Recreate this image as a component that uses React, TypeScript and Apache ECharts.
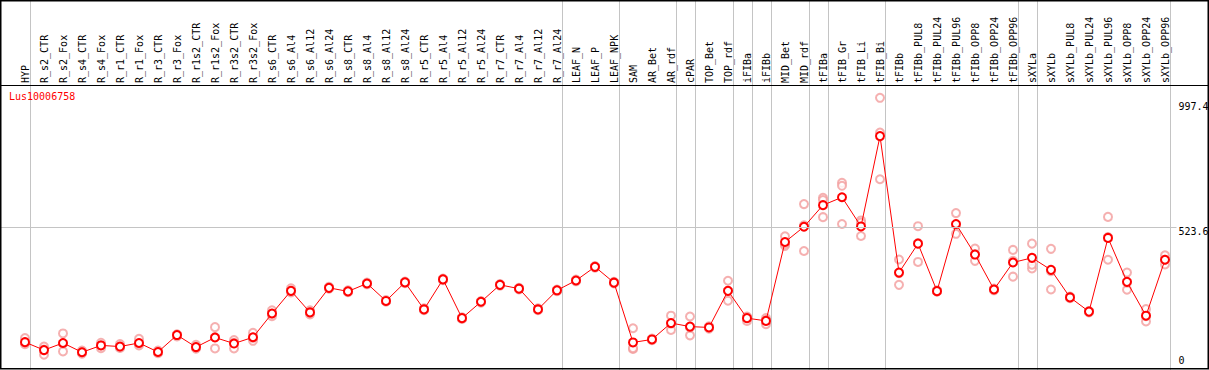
import React, { useEffect, useRef } from "react";
import * as echarts from "echarts";

const geneId = "Lus10006758";

const categories = [
  "HYP", "R_s2_CTR", "R_s2_Fox", "R_s4_CTR", "R_s4_Fox", "R_r1_CTR", "R_r1_Fox", "R_r3_CTR", "R_r3_Fox",
  "R_r1s2_CTR", "R_r1s2_Fox", "R_r3s2_CTR", "R_r3s2_Fox", "R_s6_CTR", "R_s6_Al4", "R_s6_Al12", "R_s6_Al24",
  "R_s8_CTR", "R_s8_Al4", "R_s8_Al12", "R_s8_Al24", "R_r5_CTR", "R_r5_Al4", "R_r5_Al12", "R_r5_Al24",
  "R_r7_CTR", "R_r7_Al4", "R_r7_Al12", "R_r7_Al24", "LEAF_N", "LEAF_P", "LEAF_NPK", "SAM", "AR_Bet", "AR_rdf",
  "cPAR", "TOP_Bet", "TOP_rdf", "iFIBa", "iFIBb", "MID_Bet", "MID_rdf", "tFIBa", "tFIB_Gr", "tFIB_Li", "tFIB_Bi",
  "tFIBb", "tFIBb_PUL8", "tFIBb_PUL24", "tFIBb_PUL96", "tFIBb_OPP8", "tFIBb_OPP24", "tFIBb_OPP96", "sXYLa",
  "sXYLb", "sXYLb_PUL8", "sXYLb_PUL24", "sXYLb_PUL96", "sXYLb_OPP8", "sXYLb_OPP24", "sXYLb_OPP96",
];

const meanValues = [
  102, 73, 99, 65, 90, 86, 99, 66, 128, 84, 119, 97, 120,
  207, 290, 211, 301, 288, 317, 253, 321, 222, 332, 190, 250, 312, 298, 222, 292, 328, 378, 320,
  101, 112, 172, 159, 156, 290, 190, 180, 469, 525, 604, 633, 526, 857, 357,
  463, 289, 535, 423, 295, 394, 411, 367, 266, 214, 484, 323, 199, 404,
];

const replicateA = [
  117, 86, 134, 71, 100, 95, 114, 71, 131, 92, 157, 110, 136,
  219, 299, 219, 305, 292, 320, 256, 324, 226, 335, 193, 253, 315, 301, 226, 295, 331, 381, 323,
  153, 115, 199, 196, 160, 327, 196, 190, 490, 608, 631, 686, 548, 997.4, 405,
  527, 292, 575, 445, 298, 440, 463, 444, 269, 216, 561, 357, 223, 420,
];

const replicateB = [
  95, 56, 68, 60, 80, 81, 90, 62, 123, 78, 79, 79, 107,
  197, 284, 204, 298, 285, 314, 250, 318, 219, 329, 187, 247, 309, 295, 219, 289, 325, 375, 317,
  77, 109, 147, 127, 151, 254, 180, 168, 455, 436, 560, 535, 491, 699, 312,
  396, 287, 499, 400, 292, 342, 372, 295, 263, 211, 404, 294, 178, 387,
];

const replicateC = [
  100, 75, 97, 66, 91, 84, 97, 65, 129, 83, 121, 100, 118,
  206, 289, 210, 300, 287, 317, 253, 321, 222, 332, 190, 250, 312, 298, 222, 292, 328, 378, 320,
  80, 112, 170, 155, 156, 290, 193, 183, 462, 530, 623, 675, 540, 870, 355,
  465, 289, 532, 425, 295, 400, 386, 362, 266, 215, 487, 320, 197, 404,
];

// index of the last category of each group (separator drawn right after it)
const groupEnds = [-1, 0, 28, 31, 34, 35, 37, 38, 39, 41, 42, 45, 52, 53, 60];

const tickValues = [0, 523.6, 997.4];
const tickLabels = ["0", "523.6", "997.4"];
const gridLineValues = [523.6];

const MONO = "'DejaVu Sans Mono', monospace";
const Y_MAX = 1355.8;
const labelOffsets: Record<string, number> = { "0": -9.7, "523.6": 4.2, "997.4": 8.7 };

export default function App() {
  const ref = useRef<HTMLDivElement>(null);

  useEffect(() => {
    document.body.style.margin = "0";
    if (!ref.current) return;
    const chart = echarts.init(ref.current, null, { renderer: "svg" });

    const replicateData: number[][] = [];
    [replicateA, replicateB, replicateC].forEach((arr) => {
      arr.forEach((v, i) => {
        if (v != null) replicateData.push([i, v]);
      });
    });

    const verticalLines = groupEnds.map((k) => ({
      xAxis: k + 0.3,
      lineStyle: { color: "#c4c4c4", width: 1, type: "solid" },
      label: { show: false },
    }));

    const horizontalLines = tickValues.map((v, i) => ({
      yAxis: v,
      lineStyle: {
        color: gridLineValues.indexOf(v) >= 0 ? "#c4c4c4" : "rgba(255,255,255,0)",
        width: 1,
        type: "solid",
      },
      label: {
        show: true,
        position: "end",
        distance: 2,
        formatter: tickLabels[i],
        color: "#000",
        fontFamily: MONO,
        fontSize: 10,
        offset: [0, labelOffsets[tickLabels[i]]],
      },
    }));

    chart.setOption({
      animation: false,
      backgroundColor: "#fff",
      title: {
        text: geneId,
        left: 9,
        top: 91,
        padding: 0,
        textStyle: { color: "#ff0000", fontFamily: MONO, fontSize: 10, fontWeight: "normal" },
      },
      grid: [
        { left: 15.5, width: 1159, top: 0, height: 372 },
        { left: 0.5, width: 1176, top: 0, height: 372 },
      ],
      xAxis: [
        {
          type: "category",
          gridIndex: 0,
          data: categories,
          position: "top",
          offset: -85,
          boundaryGap: true,
          axisLine: { show: false },
          axisTick: { show: false },
          splitLine: { show: false },
          axisLabel: {
            rotate: 90,
            interval: 0,
            margin: 2,
            color: "#000",
            fontFamily: MONO,
            fontSize: 10,
          },
        },
        {
          type: "value",
          gridIndex: 0,
          min: -0.5,
          max: 60.5,
          show: false,
          splitLine: { show: false },
        },
        {
          type: "value",
          gridIndex: 1,
          min: 0,
          max: 1,
          show: false,
          splitLine: { show: false },
        },
      ],
      yAxis: [
        { type: "value", gridIndex: 0, min: 0, max: Y_MAX, show: false, splitLine: { show: false } },
        { type: "value", gridIndex: 1, min: 0, max: Y_MAX, show: false, splitLine: { show: false } },
      ],
      series: [
        {
          type: "scatter",
          xAxisIndex: 2,
          yAxisIndex: 1,
          data: [],
          silent: true,
          markLine: {
            silent: true,
            symbol: ["none", "none"],
            animation: false,
            data: horizontalLines,
          },
        },
        {
          type: "scatter",
          xAxisIndex: 1,
          yAxisIndex: 0,
          data: replicateData,
          symbol: "emptyCircle",
          symbolSize: 8,
          z: 2,
          itemStyle: { color: "#f29c9c", borderColor: "#f29c9c", borderWidth: 1.5 },
          markLine: {
            silent: true,
            symbol: ["none", "none"],
            animation: false,
            z: 1,
            data: verticalLines,
          },
        },
        {
          type: "line",
          xAxisIndex: 0,
          yAxisIndex: 0,
          data: meanValues,
          symbol: "emptyCircle",
          symbolSize: 8,
          z: 3,
          lineStyle: { color: "#ff0000", width: 1 },
          itemStyle: { color: "#ff0000", borderColor: "#ff0000", borderWidth: 1.6 },
        },
      ],
      graphic: [
        {
          type: "rect",
          shape: { x: 0.75, y: 0.75, width: 1207.5, height: 368 },
          style: { fill: "none", stroke: "#000", lineWidth: 1.5 },
          z: 100,
          silent: true,
        },
        {
          type: "line",
          shape: { x1: 0, y1: 85.5, x2: 1209, y2: 85.5 },
          style: { stroke: "#000", lineWidth: 1 },
          z: 100,
          silent: true,
        },
      ],
    });

    return () => chart.dispose();
  }, []);

  return <div ref={ref} style={{ width: 1209, height: 370 }} />;
}
